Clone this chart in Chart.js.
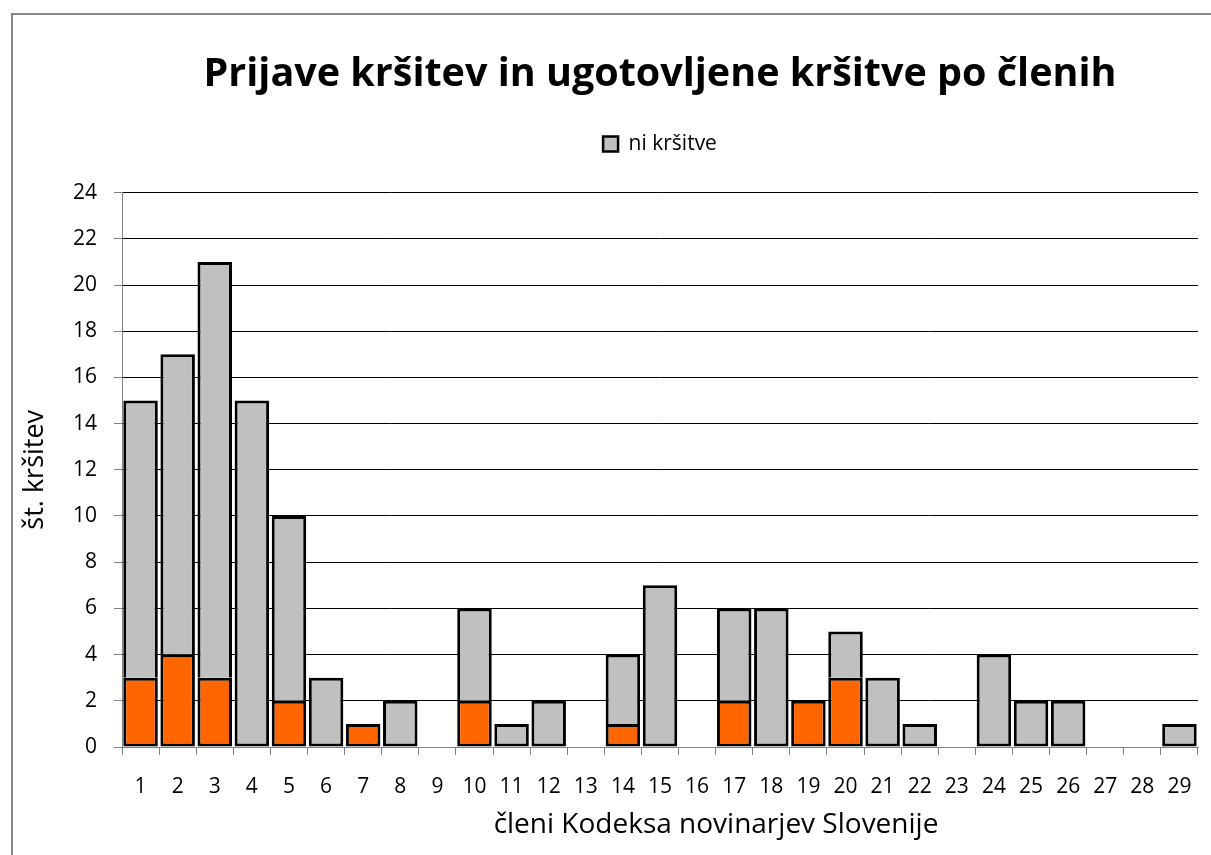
<!DOCTYPE html>
<html>
<head>
<meta charset="utf-8">
<script src="https://cdn.jsdelivr.net/npm/chart.js@4/dist/chart.umd.min.js"></script>
<style>
  html, body { margin: 0; padding: 0; background: #fff; }
  #wrap { width: 1211px; height: 855px; position: relative; }
</style>
</head>
<body>
<div id="wrap"><canvas id="c" width="1211" height="855"></canvas></div>
<script>
const categories = ['1','2','3','4','5','6','7','8','9','10','11','12','13','14','15','16','17','18','19','20','21','22','23','24','25','26','27','28','29'];
// total complaints per article
const totals    = [15,17,21,15,10,3,1,2,0,6,1,2,0,4,7,0,6,6,2,5,3,1,0,4,2,2,0,0,1];
// found violations (orange)
const violations = [3,4,3,0,2,0,1,0,0,2,0,0,0,1,0,0,2,0,2,3,0,0,0,0,0,0,0,0,0];
// no violation (grey) = total minus violations
const noViolation = totals.map((t, i) => t - violations[i]);
const yTicks = [0,2,4,6,8,10,12,14,16,18,20,22,24];
const xAxisTitle = 'členi Kodeksa novinarjev Slovenije';

const FONT = "'Open Sans', 'Liberation Sans', sans-serif";

const framePlugin = {
  id: 'frame',
  beforeDraw(chart) {
    const ctx = chart.ctx;
    ctx.save();
    ctx.fillStyle = '#fff';
    ctx.fillRect(0, 0, chart.width, chart.height);
    ctx.strokeStyle = '#868686';
    ctx.lineWidth = 2;
    ctx.beginPath();
    ctx.moveTo(12, chart.height);
    ctx.lineTo(12, 14);
    ctx.lineTo(chart.width, 14);
    ctx.stroke();
    ctx.restore();
  }
};

// x-axis title, placed slightly right of the plot centre as in the original
const xTitlePlugin = {
  id: 'xTitle',
  afterDraw(chart) {
    const ctx = chart.ctx;
    const area = chart.chartArea;
    const xScale = chart.scales.x;
    ctx.save();
    ctx.fillStyle = '#000';
    ctx.font = "28px " + FONT;
    ctx.textAlign = 'center';
    ctx.textBaseline = 'middle';
    ctx.fillText(xAxisTitle, (area.left + area.right) / 2 + 56, xScale.bottom - 30);
    ctx.restore();
  }
};

new Chart(document.getElementById('c'), {
  type: 'bar',
  data: {
    labels: categories,
    datasets: [
      {
        label: 'kršitve',
        data: violations.map(v => v === 0 ? null : v),
        backgroundColor: '#FF6600',
        borderColor: '#000',
        borderWidth: 3,
        borderSkipped: false,
        barPercentage: 0.93,
        categoryPercentage: 1.0
      },
      {
        label: 'ni kršitve',
        data: noViolation.map(v => v === 0 ? null : v),
        backgroundColor: '#C0C0C0',
        borderColor: '#000',
        borderWidth: 3,
        borderSkipped: ctx => violations[ctx.dataIndex] > 0 ? 'start' : false,
        barPercentage: 0.93,
        categoryPercentage: 1.0
      }
    ]
  },
  options: {
    responsive: false,
    animation: false,
    devicePixelRatio: 1,
    layout: { padding: { left: 0, right: 13, top: 0, bottom: 0 } },
    plugins: {
      title: {
        display: true,
        fullSize: false,
        text: 'Prijave kršitev in ugotovljene kršitve po členih',
        color: '#000',
        font: { family: FONT, size: 39.5, weight: 'bold' },
        padding: { top: 51, bottom: 3 },
        align: 'center'
      },
      // empty subtitle placed below the legend, used only as spacing above the plot
      subtitle: {
        display: true,
        fullSize: false,
        weight: 500,
        text: '',
        font: { size: 1 },
        padding: { top: 14, bottom: 13 }
      },
      legend: {
        display: true,
        fullSize: false,
        labels: {
          filter: item => item.text === 'ni kršitve',
          color: '#000',
          font: { family: FONT, size: 21 },
          boxWidth: 15,
          boxHeight: 15,
          padding: 32,
          generateLabels(chart) {
            const items = Chart.defaults.plugins.legend.labels.generateLabels(chart);
            items.forEach(it => { it.lineWidth = 2.5; });
            return items;
          }
        }
      },
      tooltip: { enabled: false }
    },
    scales: {
      x: {
        stacked: true,
        grid: { display: true, offset: true, drawOnChartArea: false, color: '#808080', tickLength: 8, lineWidth: 1 },
        border: { display: true, color: '#808080', width: 1 },
        ticks: { color: '#000', font: { family: FONT, size: 21 }, padding: 19, maxRotation: 0, autoSkip: false },
        title: { display: false },
        afterFit(scale) { scale.height = 108; }
      },
      y: {
        stacked: true,
        min: 0,
        max: 24,
        afterBuildTicks(scale) { scale.ticks = yTicks.map(v => ({ value: v })); },
        grid: { display: true, color: '#000', lineWidth: 1, tickLength: 8, tickColor: '#808080' },
        border: { display: true, color: '#808080', width: 1 },
        ticks: { color: '#000', font: { family: FONT, size: 21 }, padding: 17 },
        title: { display: true, text: 'št. kršitev', color: '#000', font: { family: FONT, size: 27 }, padding: { top: 19, bottom: 0 } },
        afterFit(scale) { scale.width = 122; }
      }
    }
  },
  plugins: [framePlugin, xTitlePlugin]
});
</script>
</body>
</html>
